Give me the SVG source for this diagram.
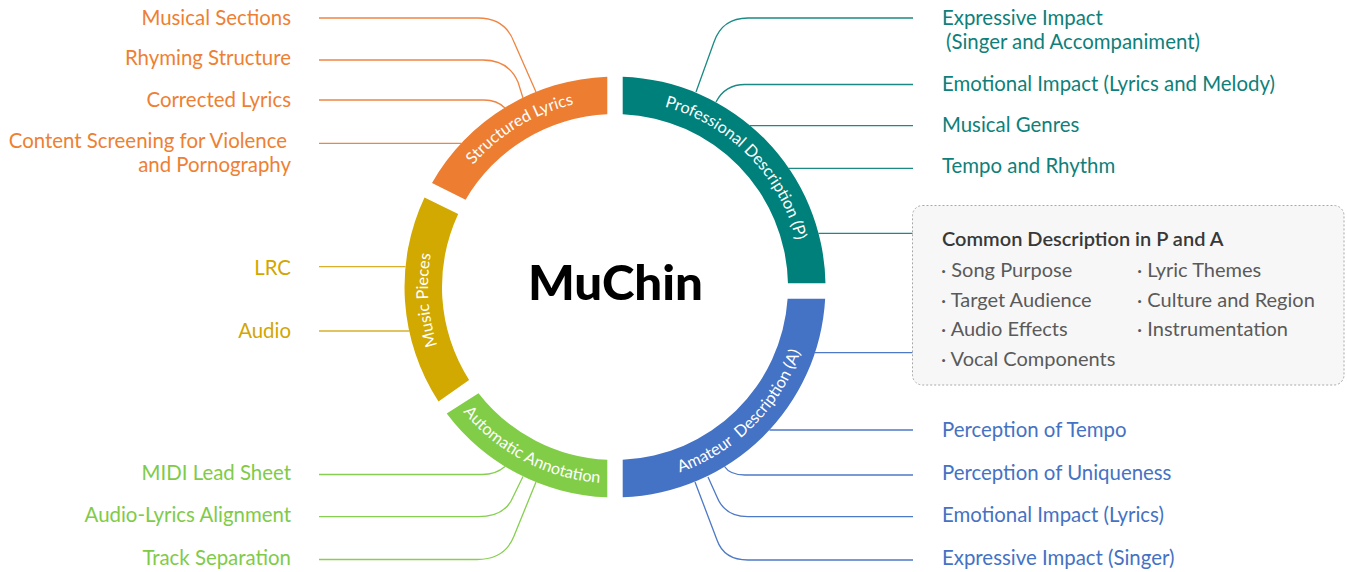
<svg xmlns="http://www.w3.org/2000/svg" width="1347" height="572" viewBox="0 0 1347 572">
<style>
.lbl{font-family:Lato,"Open Sans",sans-serif;font-size:20.4px}
.lo{fill:#EE7F33}.lt{fill:#0E7F7A}.lb{fill:#4472C4}.lg{fill:#7FCB48}.ly{fill:#D3A600}
.ring{font-family:Lato,"Open Sans",sans-serif;font-size:16.3px;fill:#fff}
.c{fill:none;stroke-width:1.3}
.co{stroke:#EE8543}.ct{stroke:#1A8A84}.cb{stroke:#4D79C6}.cg{stroke:#86CF50}.cy{stroke:#D8B02A}
.bx{font-family:Lato,"Open Sans",sans-serif;font-size:20px;fill:#5A5A5A}
</style>
<defs>
<path id="tpO" d="M 456.4,187.9 A 186.5 186.5 0 0 1 601.9,100.4"/>
<path id="tpT" d="M 628.1,100.4 A 187 187 0 0 1 801.7,277.2"/>
<path id="tpY" d="M 454.7,383.3 A 187 187 0 0 1 442.9,213.9"/>
<path id="tpG" d="M 462.3,410.7 A 196.5 196.5 0 0 0 601.3,483.0"/>
<path id="tpB" d="M 628.7,483 A 196.5 196.5 0 0 0 811.0,300.7"/>
</defs>
<rect width="1347" height="572" fill="#fff"/>

<g id="connectors">
<path class="c co" d="M 319,18 H 478 Q 505,18 514,42 L 536,92"/>
<path class="c co" d="M 319,60 H 483 C 500,60 512,68 518,82 L 523,98"/>
<path class="c co" d="M 319,100 H 484 Q 497,100 505,108"/>
<path class="c co" d="M 319,143.3 H 461.5"/>
<path class="c cy" d="M 319,266.7 H 405.5"/>
<path class="c cy" d="M 319,331 H 409.5"/>
<path class="c cg" d="M 319,474.5 H 482 Q 496,474.5 505,466.5"/>
<path class="c cg" d="M 319,516.7 H 478 Q 505,516.7 513,497 L 523,476.5"/>
<path class="c cg" d="M 319,559.5 H 477 Q 505,559.5 514,536 L 536,482"/>
<path class="c ct" d="M 913,18 H 748 C 728,18 719,28 714,42 L 696,92"/>
<path class="c ct" d="M 913,84.5 H 745 Q 725,84.5 716,102"/>
<path class="c ct" d="M 913,125.7 H 750"/>
<path class="c ct" d="M 913,168.3 H 788.5"/>
<path class="c ct" d="M 913,233.3 H 818.5"/>
<path class="c cb" d="M 913,352.7 H 815"/>
<path class="c cb" d="M 913,430 H 769.5"/>
<path class="c cb" d="M 913,475 H 745 Q 730,475 724.5,466.5"/>
<path class="c cb" d="M 913,516.7 H 748 Q 725,516.7 717,497 L 708,477"/>
<path class="c cb" d="M 913,560 H 748 Q 724,560 717,540 L 695,482"/>
</g>

<g id="structured-lyrics">
<path fill="#ED7D31" d="M 432.0,183.0 A 210.5 210.5 0 0 1 607.3,76.64 L 607.3,114.17 A 173 173 0 0 0 465.6,199.7 Z"/>
<text class="ring"><textPath href="#tpO" startOffset="50%" text-anchor="middle">Structured Lyrics</textPath></text>
</g>
<g id="professional-description">
<path fill="#00807A" d="M 622.7,76.64 A 210.5 210.5 0 0 1 825.47,283.3 L 787.96,283.3 A 173 173 0 0 0 622.7,114.17 Z"/>
<text class="ring"><textPath href="#tpT" startOffset="50%" text-anchor="middle">Professional Description (P)</textPath></text>
</g>
<g id="amateur-description">
<path fill="#4472C4" d="M 825.17,298.7 A 210.5 210.5 0 0 1 622.7,497.36 L 622.7,459.83 A 173 173 0 0 0 787.6,298.7 Z"/>
<text class="ring" xml:space="preserve"><textPath href="#tpB" startOffset="50%" text-anchor="middle">Amateur  Description (A)</textPath></text>
</g>
<g id="automatic-annotation">
<path fill="#81CD47" d="M 446.7,413.4 A 210.5 210.5 0 0 0 607.3,497.36 L 607.3,459.83 A 173 173 0 0 1 478.5,393.3 Z"/>
<text class="ring"><textPath href="#tpG" startOffset="50%" text-anchor="middle">Automatic Annotation</textPath></text>
</g>
<g id="music-pieces">
<path fill="#D2A900" d="M 424.5,197.4 A 210.5 210.5 0 0 0 438.5,401.6 L 469.1,380.0 A 173 173 0 0 1 458.2,213.9 Z"/>
<text class="ring"><textPath href="#tpY" startOffset="50%" text-anchor="middle">Music Pieces</textPath></text>
</g>

<g id="title">
<text x="615.5" y="300" text-anchor="middle" font-family="Lato,'Open Sans',sans-serif" font-weight="900" font-size="47" fill="#000" textLength="175" lengthAdjust="spacingAndGlyphs">MuChin</text>
</g>

<g id="musical-sections"><text class="lbl lo" x="291" y="25" text-anchor="end">Musical Sections</text></g>
<g id="rhyming-structure"><text class="lbl lo" x="291" y="65" text-anchor="end">Rhyming Structure</text></g>
<g id="corrected-lyrics"><text class="lbl lo" x="291" y="107" text-anchor="end">Corrected Lyrics</text></g>
<g id="content-screening"><text class="lbl lo" text-anchor="end"><tspan x="287" y="148">Content Screening for Violence</tspan><tspan x="291" y="172">and Pornography</tspan></text></g>
<g id="lrc"><text class="lbl ly" x="291" y="275" text-anchor="end">LRC</text></g>
<g id="audio"><text class="lbl ly" x="291" y="338" text-anchor="end">Audio</text></g>
<g id="midi-lead-sheet"><text class="lbl lg" x="291" y="480" text-anchor="end">MIDI Lead Sheet</text></g>
<g id="audio-lyrics-alignment"><text class="lbl lg" x="291" y="522" text-anchor="end">Audio-Lyrics Alignment</text></g>
<g id="track-separation"><text class="lbl lg" x="291" y="565" text-anchor="end">Track Separation</text></g>

<g id="expressive-impact-sa"><text class="lbl lt"><tspan x="942" y="25">Expressive Impact</tspan><tspan x="946" y="49">(Singer and Accompaniment)</tspan></text></g>
<g id="emotional-impact-lm"><text class="lbl lt" x="942" y="91">Emotional Impact (Lyrics and Melody)</text></g>
<g id="musical-genres"><text class="lbl lt" x="942" y="132">Musical Genres</text></g>
<g id="tempo-rhythm"><text class="lbl lt" x="942" y="173">Tempo and Rhythm</text></g>

<g id="common-description">
<rect x="912.5" y="205.5" width="431.5" height="179.5" rx="10" fill="#F7F7F7" stroke="#A8A8A8" stroke-width="1" stroke-dasharray="2,2"/>
<text x="942" y="246" font-family="Lato,'Open Sans',sans-serif" font-size="20" font-weight="600" fill="#383838">Common Description in P and A</text>
<text class="bx" x="941" y="277">· Song Purpose</text>
<text class="bx" x="1137" y="277">· Lyric Themes</text>
<text class="bx" x="941" y="306.5">· Target Audience</text>
<text class="bx" x="1137" y="306.5">· Culture and Region</text>
<text class="bx" x="941" y="335.5">· Audio Effects</text>
<text class="bx" x="1137" y="335.5">· Instrumentation</text>
<text class="bx" x="941" y="365.5">· Vocal Components</text>
</g>

<g id="perception-tempo"><text class="lbl lb" x="942" y="437">Perception of Tempo</text></g>
<g id="perception-uniqueness"><text class="lbl lb" x="942" y="480">Perception of Uniqueness</text></g>
<g id="emotional-impact-l"><text class="lbl lb" x="942" y="522">Emotional Impact (Lyrics)</text></g>
<g id="expressive-impact-s"><text class="lbl lb" x="942" y="565">Expressive Impact (Singer)</text></g>
</svg>
